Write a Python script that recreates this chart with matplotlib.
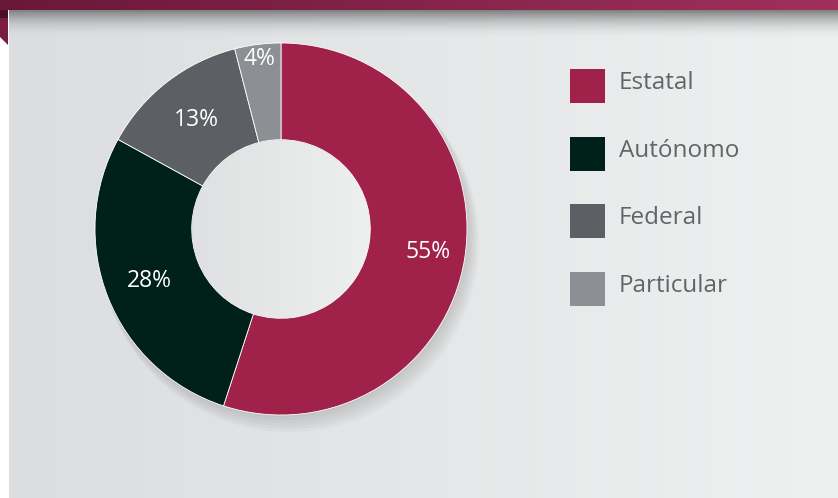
import numpy as np
import matplotlib.pyplot as plt
from matplotlib.patches import Rectangle, Polygon, Wedge
from matplotlib.colors import LinearSegmentedColormap

# Data
labels = ['Estatal', 'Autónomo', 'Federal', 'Particular']
values = [55, 28, 13, 4]
colors = ['#a0224a', '#00211a', '#5c6064', '#8c9094']
label_radius = [0.80, 0.76, 0.74, 0.92]

W, H = 838, 498
fig = plt.figure(figsize=(W / 100, H / 100), dpi=100)
fig.patch.set_facecolor('white')

# background layer in pixel coords
bg = fig.add_axes([0, 0, 1, 1])
bg.set_xlim(0, W)
bg.set_ylim(H, 0)
bg.axis('off')

# grey panel with horizontal gradient
panel = LinearSegmentedColormap.from_list('panel', ['#dcdddf', '#eff0f0'])
grad = np.linspace(0, 1, 256).reshape(1, -1)
bg.imshow(grad, cmap=panel, extent=[9, W, H, 10], aspect='auto', zorder=0)

# shadow under the banner
shade = np.linspace(0, 1, 64).reshape(-1, 1)
shadow_cmap = LinearSegmentedColormap.from_list('sh', [(0.5, 0.5, 0.5, 1), (0.85, 0.86, 0.87, 0)])
bg.imshow(shade, cmap=shadow_cmap, extent=[9, W, 38, 10], aspect='auto', zorder=1)

# maroon banner on top
banner = LinearSegmentedColormap.from_list('banner', ['#6a1838', '#a0305a'])
bg.imshow(grad, cmap=banner, extent=[0, W, 10, 0], aspect='auto', zorder=2)

# folded corner on the left
bg.add_patch(Polygon([[0, 10], [8, 10], [8, 45], [0, 37]], closed=True,
                     facecolor='#7a1c40', edgecolor='none', zorder=2))
bg.add_patch(Rectangle((0, 10), 8, 8, facecolor='#4a1028', edgecolor='none', zorder=2))

# legend
for i, (lab, col) in enumerate(zip(labels, colors)):
    y = 69 + i * 67.5
    bg.add_patch(Rectangle((570, y), 35, 34, facecolor=col, edgecolor='none', zorder=3))
    bg.text(619, y + 14, lab, fontsize=17.5, color='#626568', family='Open Sans',
            va='center', ha='left', zorder=3)

# donut
cx, cy, r = 281, 229, 186
ax = fig.add_axes([(cx - r) / W, (H - cy - r) / H, 2 * r / W, 2 * r / H])

# soft shadow
for k in range(6):
    off = 0.012 * (k + 1)
    ax.add_patch(Wedge((off * 0.6, -off), 1.0 + 0.004 * k, 0, 360, width=0.52,
                       facecolor='black', alpha=0.025, edgecolor='none', zorder=0,
                       clip_on=False))

wedges, _ = ax.pie(values, colors=colors, startangle=90, counterclock=False, radius=1,
                   wedgeprops=dict(width=0.52, edgecolor='white', linewidth=0.6))
for w in wedges:
    w.set_zorder(2)
ax.set_xlim(-1, 1)
ax.set_ylim(-1, 1)
ax.axis('off')

# hole fill
hole = LinearSegmentedColormap.from_list('hole', ['#dfe0e1', '#eef0f0'])
im = ax.imshow(grad, cmap=hole, extent=[-0.48, 0.48, -0.48, 0.48], zorder=3)
im.set_clip_path(Wedge((0, 0), 0.478, 0, 360, transform=ax.transData))
ax.set_xlim(-1, 1)
ax.set_ylim(-1, 1)

# percentage labels
total = sum(values)
start = 90
for v, lr in zip(values, label_radius):
    mid = np.deg2rad(start - v / total * 360 / 2)
    ax.text(lr * np.cos(mid), lr * np.sin(mid), f'{v}%', color='white', fontsize=16.5,
            family='Open Sans', ha='center', va='center', zorder=4)
    start -= v / total * 360

fig.savefig('out.png', dpi=100)
